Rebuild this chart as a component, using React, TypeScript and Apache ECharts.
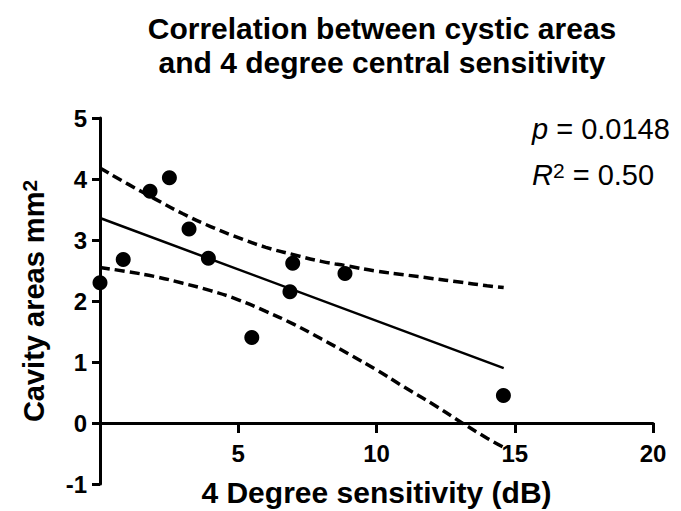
import React, { useEffect, useRef } from "react";
import * as echarts from "echarts";

// Data points: [sensitivity (dB), cavity area (mm²)]
const sensitivity = [0, 0.84, 1.81, 2.51, 3.22, 3.92, 5.49, 6.87, 6.97, 8.86, 14.59];
const cavityArea = [2.3, 2.68, 3.8, 4.02, 3.18, 2.7, 1.4, 2.15, 2.62, 2.45, 0.45];

// Regression line end points
const fitX = [0, 14.6];
const fitY = [3.36, 0.9];

// 95% confidence band
const bandX = [0, 1, 2, 3, 4, 5, 6, 7, 8, 9, 10, 11, 12, 13, 14, 14.6];
const bandUpper = [4.18, 3.92, 3.67, 3.43, 3.22, 3.04, 2.88, 2.76, 2.65, 2.57, 2.49, 2.43, 2.37, 2.31, 2.25, 2.22];
const bandLower = [2.55, 2.48, 2.4, 2.29, 2.17, 2.02, 1.83, 1.62, 1.38, 1.13, 0.87, 0.59, 0.32, 0.03, -0.25, -0.4];

const xTicks = { min: 0, max: 20, interval: 5 };
const yTicks = { min: -1, max: 5, interval: 1 };

const FONT = "'Liberation Sans', Arial, sans-serif";

export default function App() {
  const ref = useRef<HTMLDivElement>(null);
  useEffect(() => {
    if (!ref.current) return;
    const chart = echarts.init(ref.current, undefined, { renderer: "svg" });
    const pts = sensitivity.map((x, i) => [x, cavityArea[i]]);
    const fit = fitX.map((x, i) => [x, fitY[i]]);
    const up = bandX.map((x, i) => [x, bandUpper[i]]);
    const lo = bandX.map((x, i) => [x, bandLower[i]]);
    const dashed = { color: "#000", width: 3.5, type: [10, 5] as any };
    chart.setOption({
      animation: false,
      backgroundColor: "#fff",
      title: {
        text: "Correlation between cystic areas\nand 4 degree central sensitivity",
        left: 377,
        top: 6,
        textAlign: "center",
        textStyle: { fontFamily: FONT, fontSize: 30, fontWeight: "bold", color: "#000", lineHeight: 34 },
      },
      grid: { left: 100, right: 28, top: 118, bottom: 27, outerBoundsMode: "none" },
      xAxis: {
        type: "value",
        min: xTicks.min,
        max: xTicks.max,
        interval: xTicks.interval,
        name: "4 Degree sensitivity (dB)",
        nameLocation: "middle",
        nameGap: -7,
        nameTextStyle: { fontFamily: FONT, fontSize: 30, fontWeight: "bold", color: "#000" },
        axisLine: { onZero: true, lineStyle: { color: "#000", width: 3 } },
        axisTick: { length: 10, lineStyle: { color: "#000", width: 3 } },
        splitLine: { show: false },
        axisLabel: {
          margin: -43,
          fontFamily: FONT,
          fontSize: 24,
          fontWeight: "bold",
          color: "#000",
          formatter: (v: number) => (v === 0 ? "" : String(v)),
        },
      },
      yAxis: {
        type: "value",
        min: yTicks.min,
        max: yTicks.max,
        interval: yTicks.interval,
        name: "Cavity areas mm{sup|2}",
        nameLocation: "middle",
        nameGap: 52,
        nameTextStyle: {
          fontFamily: FONT,
          fontSize: 29,
          fontWeight: "bold",
          color: "#000",
          rich: {
            sup: { fontFamily: FONT, fontSize: 21, fontWeight: "bold", color: "#000", verticalAlign: "top" },
          },
        },
        axisLine: { onZero: false, lineStyle: { color: "#000", width: 3 } },
        axisTick: { length: 8, lineStyle: { color: "#000", width: 3 } },
        splitLine: { show: false },
        axisLabel: { margin: 13, fontFamily: FONT, fontSize: 24, fontWeight: "bold", color: "#000" },
      },
      graphic: [
        {
          type: "text",
          left: 532,
          top: 114,
          style: {
            text: "{i|p} = 0.0148",
            fontFamily: FONT,
            fontSize: 29,
            fill: "#000",
            rich: { i: { fontFamily: FONT, fontSize: 29, fontStyle: "italic", fill: "#000" } },
          },
        },
        {
          type: "text",
          left: 532,
          top: 160,
          style: {
            text: "{i|R}{sup|2} = 0.50",
            fontFamily: FONT,
            fontSize: 29,
            fill: "#000",
            rich: {
              i: { fontFamily: FONT, fontSize: 29, fontStyle: "italic", fill: "#000" },
              sup: { fontFamily: FONT, fontSize: 21, fill: "#000", verticalAlign: "top" },
            },
          },
        },
      ],
      series: [
        {
          type: "line",
          data: up,
          smooth: true,
          showSymbol: false,
          lineStyle: dashed,
          itemStyle: { color: "#000" },
          z: 2,
        },
        {
          type: "line",
          data: lo,
          smooth: true,
          showSymbol: false,
          lineStyle: dashed,
          itemStyle: { color: "#000" },
          z: 2,
        },
        {
          type: "line",
          data: fit,
          showSymbol: false,
          lineStyle: { color: "#000", width: 2.5 },
          itemStyle: { color: "#000" },
          z: 2,
        },
        {
          type: "scatter",
          data: pts,
          symbol: "circle",
          symbolSize: 15,
          itemStyle: { color: "#000", opacity: 1 },
          z: 3,
        },
      ],
    });
    return () => chart.dispose();
  }, []);
  return (
    <div
      ref={ref}
      style={{ position: "fixed", left: 0, top: 0, width: 681, height: 511, background: "#fff" }}
    />
  );
}
